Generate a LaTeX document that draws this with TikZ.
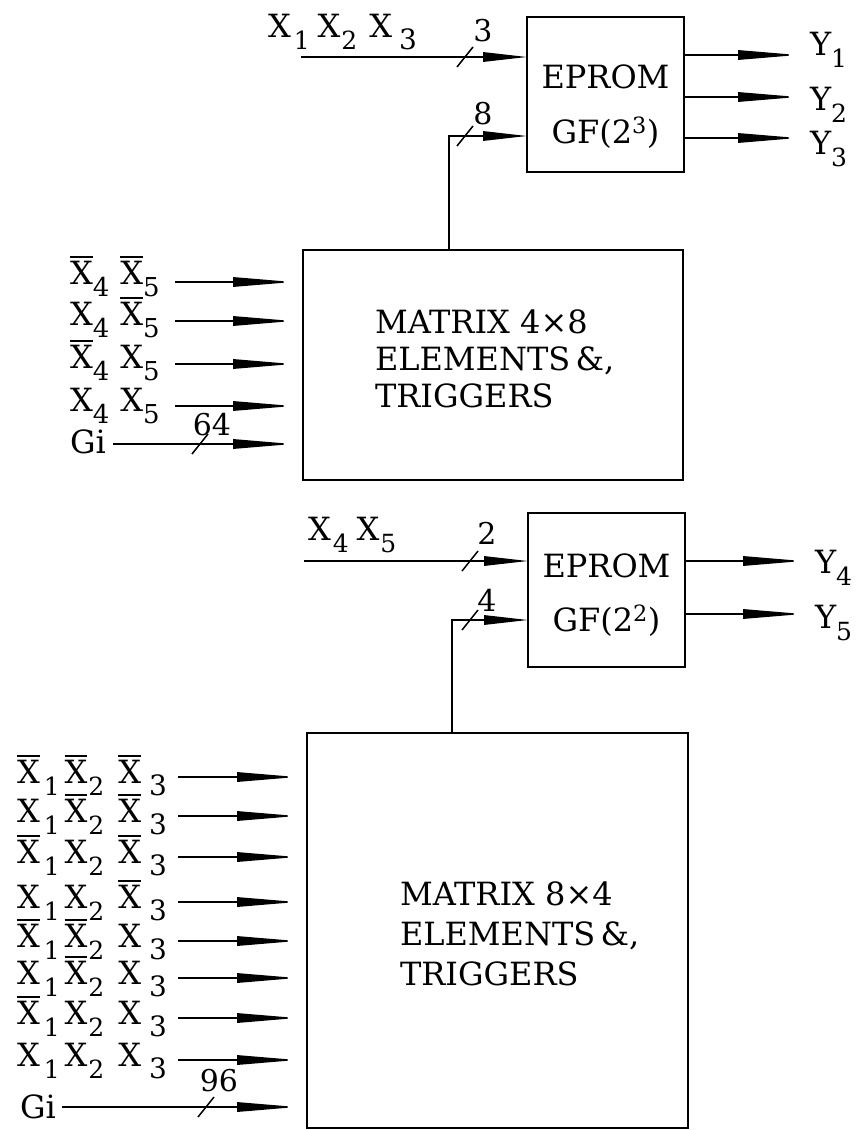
\documentclass[tikz,border=0pt]{standalone}
\usepackage{fontspec}
\setmainfont{DejaVu Serif}
\usepackage{graphicx}
\usetikzlibrary{arrows.meta}
\newcommand\ob[1]{\setbox0\hbox{#1}\rlap{\rule[\dimexpr\ht0+3pt\relax]{\wd0}{1.8pt}}#1}
\newcommand\sd[2][25]{\raisebox{-12pt}{\fontsize{#1}{#1}\selectfont #2}}
\newcommand\Xv[1]{\ifnum#1=0 \ob{X}\else X\fi}
\newcommand\rowA[2]{\Xv{#1}\sd[26]{4}\kern11pt\Xv{#2}\sd[26]{5}}
\newcommand\rowB[3]{\Xv{#1}\kern4pt\sd{1}\kern5pt\Xv{#2}\kern1pt\sd{2}\kern14pt\Xv{#3}\kern8pt\sd[28]{3}}
\begin{document}
\begin{tikzpicture}[x=1pt,y=-1pt,
  every node/.style={inner sep=0pt,outer sep=0pt},
  ln/.style={line width=1.5pt},
  box/.style={draw,line width=2pt,inner sep=0pt},
  arrL/.style={ln,-{Triangle[length=60pt,width=9.5pt]}},
  arrS/.style={ln,-{Triangle[length=44pt,width=9.5pt]}},
  lbl/.style={font=\fontsize{32}{34}\selectfont,anchor=base west},
  num/.style={font=\fontsize{30}{30}\selectfont},
  txt/.style={font=\fontsize{32}{37}\selectfont},
  slash/.style={ln}]
\useasboundingbox (0,0) rectangle (863,1130);

% ---------- upper part ----------
\node[box,minimum width=157pt,minimum height=155pt] (e1) at (605.5,94.5) {};
\node[txt,anchor=base] (e1a) at (605.5,88) {EPROM};
\node[txt,anchor=base] (e1b) at (605.5,143) {GF(2\textsuperscript{3})};

\node[box,minimum width=380pt,minimum height=230pt] (m1) at (493,365) {};
\node[txt,anchor=north west,align=left] (m1t) at (375,310) {MATRIX 4×8\\ELEMENTS\,\&,\\TRIGGERS};

% input X1X2X3
\node[lbl] (lx123) at (268,37) {X\kern3pt\sd{1}\kern8pt X\kern1pt\sd{2}\kern12pt X\kern7pt\sd[28]{3}};
\coordinate (i1) at (301,57);
\draw[arrS] (i1) -- (i1 -| e1.west);
\coordinate (s1) at (465,57);
\draw[slash] (s1) ++(-8,10) -- ++(16,-20);
\node[num] (n3) at (483,31) {3};

% input 8 from matrix 1
\coordinate (c8) at (449,136);
\draw[arrS] (m1.north -| c8) |- (e1.west |- c8);
\coordinate (s2) at (465,136);
\draw[slash] (s2) ++(-8,10) -- ++(16,-20);
\node[num] (n8) at (483,114) {8};

% outputs Y1..Y3
\coordinate (y1) at (798,55);
\coordinate (y2) at (798,97);
\coordinate (y3) at (798,138);
\draw[arrL] (e1.east |- y1) -- (y1);
\draw[arrL] (e1.east |- y2) -- (y2);
\draw[arrL] (e1.east |- y3) -- (y3);
\node[lbl] (ly1) at (810,55) {Y\sd{1}};
\node[lbl] (ly2) at (810,110) {Y\sd{2}};
\node[lbl] (ly3) at (810,154) {Y\sd{3}};

% matrix 1 inputs
\coordinate (a1) at (175,282);
\coordinate (a2) at (175,321);
\coordinate (a3) at (175,364);
\coordinate (a4) at (175,406);
\coordinate (a5) at (113,444);
\foreach \c in {a1,a2,a3,a4,a5}
  \draw[arrL,shorten >=10pt] (\c) -- (\c -| m1.west);
\node[lbl] (la1) at (70,284) {\rowA{0}{0}};
\node[lbl] (la2) at (70,325) {\rowA{1}{0}};
\node[lbl] (la3) at (70,368) {\rowA{0}{1}};
\node[lbl] (la4) at (70,411) {\rowA{1}{1}};
\node[lbl] (lg1) at (70,453) {Gi};
\coordinate (s3) at (200,444);
\draw[slash] (s3) ++(-8,10) -- ++(16,-20);
\node[num] (n64) at (212,425) {64};

% ---------- lower part ----------
\node[box,minimum width=157pt,minimum height=154pt] (e2) at (606.5,590) {};
\node[txt,anchor=base] (e2a) at (606.5,577) {EPROM};
\node[txt,anchor=base] (e2b) at (606.5,631) {GF(2\textsuperscript{2})};

\node[box,minimum width=381pt,minimum height=395pt] (m2) at (497.5,930.5) {};
\node[txt,anchor=north west,align=left,font=\fontsize{32}{40}\selectfont] (m2t) at (400,882) {MATRIX 8×4\\ELEMENTS\,\&,\\TRIGGERS};

% input X4X5
\node[lbl] (lx45) at (308,540) {X\kern2pt\sd{4}\kern8pt X\kern1pt\sd{5}};
\coordinate (i2) at (304,561);
\draw[arrS] (i2) -- (i2 -| e2.west);
\coordinate (s4) at (470,561);
\draw[slash] (s4) ++(-8,10) -- ++(16,-20);
\node[num] (n2) at (487,533) {2};

% input 4 from matrix 2
\coordinate (c4) at (452,620);
\draw[arrS] (m2.north -| c4) |- (e2.west |- c4);
\coordinate (s5) at (470,620);
\draw[slash] (s5) ++(-8,10) -- ++(16,-20);
\node[num] (n4) at (487,600) {4};

% outputs Y4, Y5
\coordinate (y4) at (803,561);
\coordinate (y5) at (803,614);
\draw[arrL] (e2.east |- y4) -- (y4);
\draw[arrL] (e2.east |- y5) -- (y5);
\node[lbl] (ly4) at (815,573) {Y\sd{4}};
\node[lbl] (ly5) at (815,628) {Y\sd{5}};

% matrix 2 inputs
\coordinate (b1) at (178,777);
\coordinate (b2) at (178,816);
\coordinate (b3) at (178,857);
\coordinate (b4) at (178,902);
\coordinate (b5) at (178,941);
\coordinate (b6) at (178,978);
\coordinate (b7) at (178,1018);
\coordinate (b8) at (178,1060);
\coordinate (b9) at (62,1107);
\foreach \c in {b1,b2,b3,b4,b5,b6,b7,b8,b9}
  \draw[arrL,shorten >=10pt] (\c) -- (\c -| m2.west);
\node[lbl] (lb1) at (17,783) {\rowB{0}{0}{0}};
\node[lbl] (lb2) at (17,822) {\rowB{1}{0}{0}};
\node[lbl] (lb3) at (17,863) {\rowB{0}{1}{0}};
\node[lbl] (lb4) at (17,908) {\rowB{1}{1}{0}};
\node[lbl] (lb5) at (17,947) {\rowB{0}{0}{1}};
\node[lbl] (lb6) at (17,984) {\rowB{1}{0}{1}};
\node[lbl] (lb7) at (17,1024) {\rowB{0}{1}{1}};
\node[lbl] (lb8) at (17,1066) {\rowB{1}{1}{1}};
\node[lbl] (lg2) at (20,1118) {Gi};
\coordinate (s6) at (206,1107);
\draw[slash] (s6) ++(-8,10) -- ++(16,-20);
\node[num] (n96) at (219,1081) {96};
\end{tikzpicture}
\end{document}
